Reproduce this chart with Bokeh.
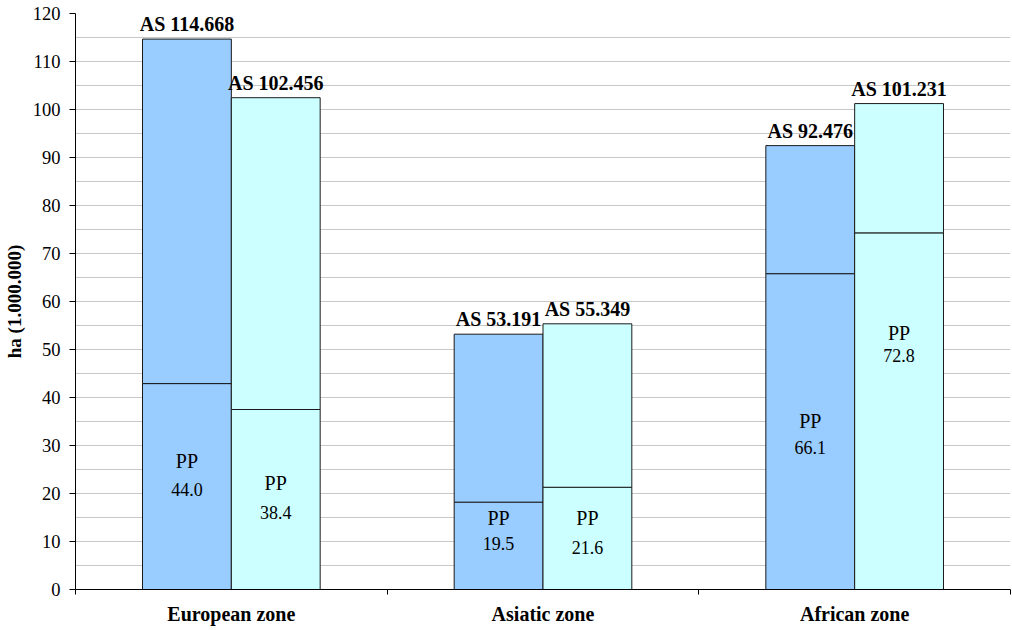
from bokeh.plotting import figure
from bokeh.models import ColumnDataSource, FixedTicker, Range1d
from bokeh.core.properties import value
from bokeh.embed import file_html
from bokeh.resources import INLINE

# ---- data ----
zones = ["European zone", "Asiatic zone", "African zone"]
as_bar1 = [114.668, 53.191, 92.476]     # first bar of each zone (AS total)
as_bar2 = [102.456, 55.349, 101.231]    # second bar of each zone (AS total)
pp_bar1 = [44.0, 19.5, 66.1]            # PP labels, first bar
pp_bar2 = [38.4, 21.6, 72.8]            # PP labels, second bar
split_bar1 = [42.9, 18.2, 65.8]         # PP division lines as drawn
split_bar2 = [37.5, 21.3, 74.3]
y_ticks = list(range(0, 121, 10))

# label placement (layout, data units)
pp_word_y1 = [26.7, 14.8, 35.1]
pp_word_y2 = [22.1, 14.8, 53.4]
pp_val_y1 = [20.8, 9.5, 29.5]
pp_val_y2 = [16.0, 8.75, 48.75]

FONT = "Liberation Serif"
C1 = "#99CCFF"
C2 = "#CCFFFF"
BW = 0.285

p = figure(width=1012, height=630, output_backend="svg", toolbar_location=None,
           x_range=Range1d(0, 3), y_range=Range1d(0, 120),
           min_border_left=75, min_border_right=2, min_border_top=13, min_border_bottom=41)
p.outline_line_color = None
p.background_fill_color = "white"
p.border_fill_color = "white"

n = len(zones)
x1 = [i + 0.5 - BW / 2 for i in range(n)]
x2 = [i + 0.5 + BW / 2 for i in range(n)]

src = ColumnDataSource(dict(
    x1=x1, x2=x2, as1=as_bar1, as2=as_bar2, s1=split_bar1, s2=split_bar2,
    zero=[0] * n,
    as1_lbl=["AS %.3f" % v for v in as_bar1], as2_lbl=["AS %.3f" % v for v in as_bar2],
    pp1_lbl=["%.1f" % v for v in pp_bar1], pp2_lbl=["%.1f" % v for v in pp_bar2],
    pw1=pp_word_y1, pw2=pp_word_y2, pv1=pp_val_y1, pv2=pp_val_y2,
    pp=["PP"] * n,
))

# bars: lower (PP) and upper segments
p.vbar(x="x1", width=BW, bottom="zero", top="s1", source=src, fill_color=C1, line_color="#1a1a1a", line_width=1)
p.vbar(x="x1", width=BW, bottom="s1", top="as1", source=src, fill_color=C1, line_color="#1a1a1a", line_width=1)
p.vbar(x="x2", width=BW, bottom="zero", top="s2", source=src, fill_color=C2, line_color="#1a1a1a", line_width=1)
p.vbar(x="x2", width=BW, bottom="s2", top="as2", source=src, fill_color=C2, line_color="#1a1a1a", line_width=1)

# AS labels
for xc, yc, tc in (("x1", "as1", "as1_lbl"), ("x2", "as2", "as2_lbl")):
    p.text(x=xc, y=yc, text=tc, source=src, text_font=value(FONT), text_font_style="bold",
           text_font_size="20px", text_align="center", text_baseline="bottom",
           y_offset=-4, text_color="black")

# PP labels
for xc, yw, yv, tv in (("x1", "pw1", "pv1", "pp1_lbl"), ("x2", "pw2", "pv2", "pp2_lbl")):
    p.text(x=xc, y=yw, text="pp", source=src, text_font=value(FONT), text_font_size="20px",
           text_align="center", text_baseline="middle", text_color="black")
    p.text(x=xc, y=yv, text=tv, source=src, text_font=value(FONT), text_font_size="18px",
           text_align="center", text_baseline="middle", text_color="black")

# x axis
xa = p.xaxis[0]
xa.ticker = FixedTicker(ticks=[i + 0.5 for i in range(n)], minor_ticks=list(range(n + 1)))
xa.major_label_overrides = {i + 0.5: z for i, z in enumerate(zones)}
xa.major_tick_line_color = None
xa.major_tick_out = 5
xa.major_tick_in = 0
xa.minor_tick_line_color = "black"
xa.minor_tick_out = 5
xa.minor_tick_in = 0
xa.major_label_standoff = 8
xa.major_label_text_font = FONT
xa.major_label_text_font_style = "bold"
xa.major_label_text_font_size = "20px"
xa.major_label_text_color = "black"
xa.axis_line_color = "black"

# y axis
ya = p.yaxis[0]
ya.ticker = FixedTicker(ticks=y_ticks, minor_ticks=[v + 5 for v in y_ticks[:-1]])
ya.major_tick_out = 6
ya.major_tick_in = 0
ya.minor_tick_line_color = None
ya.major_label_standoff = 9
ya.major_label_text_font = FONT
ya.major_label_text_font_size = "18.5px"
ya.major_label_text_color = "black"
ya.axis_line_color = "black"
ya.major_tick_line_color = "black"
ya.axis_label = "ha (1.000.000)"
ya.axis_label_text_font = FONT
ya.axis_label_text_font_style = "bold"
ya.axis_label_text_font_size = "19px"
ya.axis_label_text_color = "black"
ya.axis_label_standoff = 5

p.xgrid.grid_line_color = None
p.ygrid.grid_line_color = "#c8c8c8"
p.ygrid.minor_grid_line_color = "#c8c8c8"

open("out.html", "w").write(file_html(p, INLINE))
